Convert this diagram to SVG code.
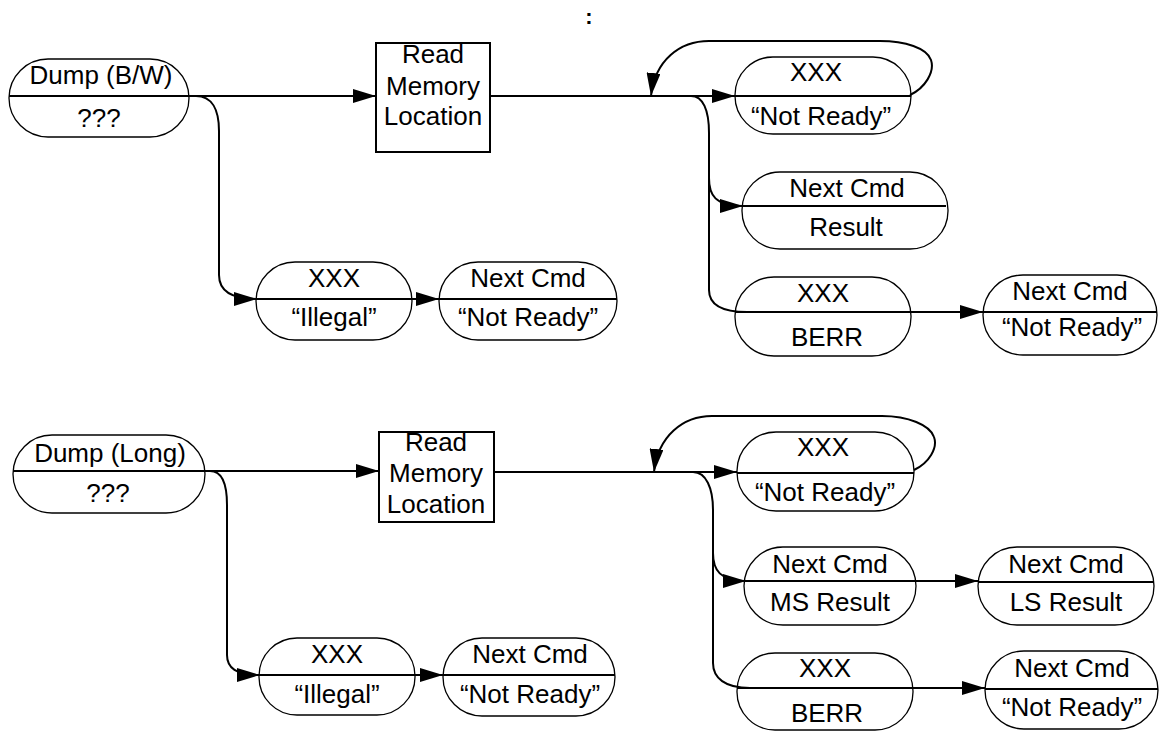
<svg xmlns="http://www.w3.org/2000/svg" width="1159" height="731" viewBox="0 0 1159 731">
<defs>
<style>
.n{fill:none;stroke:#000;stroke-width:1.3}
.d{stroke:#000;stroke-width:2}
.b{fill:none;stroke:#000;stroke-width:2}
.c{fill:none;stroke:#000;stroke-width:2}
.a{marker-end:url(#ah)}
text{font-family:"Liberation Sans",Arial,sans-serif;font-size:26px;text-anchor:middle;fill:#000}
</style>
<marker id="ah" markerUnits="userSpaceOnUse" markerWidth="24" markerHeight="14" refX="23" refY="7" orient="auto">
<path d="M0,0 L23,7 L0,14 z" fill="#000"/>
</marker>
</defs>
<rect width="1159" height="731" fill="#fff"/>
<text x="589" y="24" style="font-size:22px;font-weight:bold">:</text>

<g id="connectors">
<!-- top section -->
<path class="c a" d="M189,96 L376,96"/>
<path class="c a" d="M196,96 C212,96 219,110 219,131 L219,275 C219,290 230,299 257,299"/>
<path class="c a" d="M412,299 L439,299"/>
<path class="c a" d="M490,96 L735,96"/>
<path class="c a" d="M910,95 C925,88 935,72 931,60 C927,48 905,41 880,41 L709,41 C680,41 655,60 651,96"/>
<path class="c" d="M691,96 C703,96 709,110 709,133 L709,290 C709,303 720,312 747,312"/>
<path class="c a" d="M709,178 C709,195 715,206 743,206"/>
<path class="c a" d="M911,312 L983,312"/>
<!-- bottom section -->
<path class="c a" d="M205,471 L379,471"/>
<path class="c a" d="M210,471 C222,471 227,485 227,505 L227,655 C227,668 236,675 260,675"/>
<path class="c a" d="M415,675 L443,675"/>
<path class="c a" d="M494,472 L737,472"/>
<path class="c a" d="M914,470 C929,463 938,448 934,437 C930,425 908,416 882,416 L712,416 C683,416 658,436 654,472"/>
<path class="c" d="M693,472 C706,472 713,488 713,510 L713,663 C713,678 725,688 750,688"/>
<path class="c a" d="M713,553 C713,570 720,581 746,581"/>
<path class="c a" d="M916,581 L978,581"/>
<path class="c a" d="M913,688 L985,688"/>
</g>

<!-- top section nodes -->
<g id="dump-bw">
<rect class="n" x="9" y="59" width="180" height="78" rx="39" ry="39"/>
<line class="d" x1="9" y1="96" x2="189" y2="96"/>
<text x="101" y="84">Dump (B/W)</text>
<text x="99" y="127">???</text>
</g>
<g id="read-1">
<rect class="b" x="376" y="43" width="114" height="109"/>
<text x="433" y="63">Read</text>
<text x="433" y="95">Memory</text>
<text x="433" y="125">Location</text>
</g>
<g id="illegal-1">
<rect class="n" x="256" y="262" width="156" height="78" rx="39" ry="39"/>
<line class="d" x1="256" y1="299" x2="412" y2="299"/>
<text x="334" y="287">XXX</text>
<text x="334" y="326">“Illegal”</text>
</g>
<g id="nextcmd-nr-1">
<rect class="n" x="439" y="262" width="178" height="78" rx="39" ry="39"/>
<line class="d" x1="439" y1="299" x2="617" y2="299"/>
<text x="528" y="287">Next Cmd</text>
<text x="528" y="326">“Not Ready”</text>
</g>
<g id="xxx-nr-1">
<rect class="n" x="735" y="57" width="176" height="77" rx="38" ry="38"/>
<line class="d" x1="735" y1="96" x2="911" y2="96"/>
<text x="816" y="81">XXX</text>
<text x="821" y="125">“Not Ready”</text>
</g>
<g id="result-1">
<rect class="n" x="742" y="172" width="206" height="77" rx="38" ry="38"/>
<line class="d" x1="742" y1="206" x2="946" y2="206"/>
<text x="847" y="197">Next Cmd</text>
<text x="846" y="236">Result</text>
</g>
<g id="berr-1">
<rect class="n" x="735" y="277" width="176" height="79" rx="39" ry="39"/>
<line class="d" x1="735" y1="312" x2="911" y2="312"/>
<text x="823" y="302">XXX</text>
<text x="827" y="346">BERR</text>
</g>
<g id="nextcmd-nr-2">
<rect class="n" x="983" y="275" width="174" height="80" rx="40" ry="40"/>
<line class="d" x1="983" y1="312" x2="1157" y2="312"/>
<text x="1070" y="300">Next Cmd</text>
<text x="1072" y="336">“Not Ready”</text>
</g>

<!-- bottom section nodes -->
<g id="dump-long">
<rect class="n" x="13" y="435" width="192" height="78" rx="39" ry="39"/>
<line class="d" x1="13" y1="471" x2="205" y2="471"/>
<text x="110" y="462">Dump (Long)</text>
<text x="108" y="502">???</text>
</g>
<g id="read-2">
<rect class="b" x="379" y="432" width="115" height="90"/>
<text x="436" y="451">Read</text>
<text x="436" y="482">Memory</text>
<text x="436" y="513">Location</text>
</g>
<g id="illegal-2">
<rect class="n" x="259" y="638" width="156" height="77" rx="38" ry="38"/>
<line class="d" x1="259" y1="675" x2="415" y2="675"/>
<text x="337" y="663">XXX</text>
<text x="337" y="703">“Illegal”</text>
</g>
<g id="nextcmd-nr-3">
<rect class="n" x="443" y="638" width="172" height="78" rx="39" ry="39"/>
<line class="d" x1="443" y1="675" x2="615" y2="675"/>
<text x="530" y="663">Next Cmd</text>
<text x="530" y="703">“Not Ready”</text>
</g>
<g id="xxx-nr-2">
<rect class="n" x="737" y="432" width="177" height="79" rx="39" ry="39"/>
<line class="d" x1="737" y1="473" x2="914" y2="473"/>
<text x="823" y="456">XXX</text>
<text x="825" y="501">“Not Ready”</text>
</g>
<g id="ms-result">
<rect class="n" x="744" y="547" width="172" height="78" rx="39" ry="39"/>
<line class="d" x1="744" y1="581" x2="916" y2="581"/>
<text x="830" y="573">Next Cmd</text>
<text x="830" y="611">MS Result</text>
</g>
<g id="ls-result">
<rect class="n" x="978" y="547" width="176" height="78" rx="39" ry="39"/>
<line class="d" x1="978" y1="582" x2="1154" y2="582"/>
<text x="1066" y="573">Next Cmd</text>
<text x="1066" y="611">LS Result</text>
</g>
<g id="berr-2">
<rect class="n" x="737" y="653" width="176" height="77" rx="38" ry="38"/>
<line class="d" x1="737" y1="688" x2="913" y2="688"/>
<text x="825" y="677">XXX</text>
<text x="827" y="722">BERR</text>
</g>
<g id="nextcmd-nr-4">
<rect class="n" x="985" y="651" width="173" height="78" rx="39" ry="39"/>
<line class="d" x1="985" y1="689" x2="1158" y2="689"/>
<text x="1072" y="677">Next Cmd</text>
<text x="1072" y="716">“Not Ready”</text>
</g>
</svg>
